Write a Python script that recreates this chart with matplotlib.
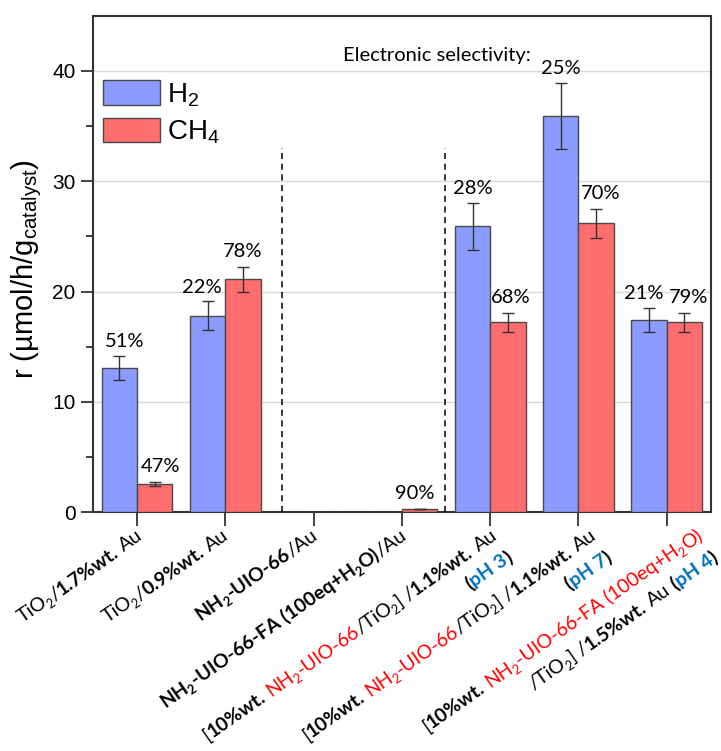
import re
import numpy as np
import matplotlib
matplotlib.use('Agg')
import matplotlib.pyplot as plt
from matplotlib.patches import Patch

plt.rcParams['font.family'] = 'Liberation Sans'
plt.rcParams['mathtext.fontset'] = 'custom'
plt.rcParams['mathtext.default'] = 'regular'

# ---- data ----
h2 = [13.1, 17.8, 0.0, 0.0, 25.9, 35.9, 17.4]
h2_err = [1.1, 1.3, 0.0, 0.0, 2.1, 3.0, 1.1]
ch4 = [2.55, 21.1, 0.0, 0.3, 17.2, 26.2, 17.2]
ch4_err = [0.15, 1.1, 0.0, 0.0, 0.9, 1.3, 0.9]
h2_sel = ['51%', '22%', '', '', '28%', '25%', '21%']
ch4_sel = ['47%', '78%', '', '90%', '68%', '70%', '79%']

# tick labels: list of lines, each line a list of (text, color, weight)
K, R, B = 'black', '#ff0000', '#0070c0'
tick_labels = [
    [[('TiO$_2$/', K, 'normal'), ('1.7%wt.', K, 'bold'), (' Au', K, 'normal')]],
    [[('TiO$_2$/', K, 'normal'), ('0.9%wt.', K, 'bold'), (' Au', K, 'normal')]],
    [[('NH$_2$-UIO-66', K, 'bold'), ('/Au', K, 'normal')]],
    [[('NH$_2$-UIO-66-FA (100eq+H$_2$O)', K, 'bold'), ('/Au', K, 'normal')]],
    [[('[', K, 'normal'), ('10%wt. ', K, 'bold'), ('NH$_2$-UIO-66', R, 'normal'),
      ('/TiO$_2$] /', K, 'normal'), ('1.1%wt.', K, 'bold'), (' Au', K, 'normal')],
     [('(', K, 'bold'), ('pH 3', B, 'bold'), (')', K, 'bold')]],
    [[('[', K, 'normal'), ('10%wt. ', K, 'bold'), ('NH$_2$-UIO-66', R, 'normal'),
      ('/TiO$_2$] /', K, 'normal'), ('1.1%wt.', K, 'bold'), (' Au', K, 'normal')],
     [('(', K, 'bold'), ('pH 7', B, 'bold'), (')', K, 'bold')]],
    [[('[', K, 'normal'), ('10%wt. ', K, 'bold'), ('NH$_2$-UIO-66-FA (100eq+H$_2$O)', R, 'normal')],
     [('/TiO$_2$] /', K, 'normal'), ('1.5%wt.', K, 'bold'), (' Au ', K, 'normal'),
      ('(', K, 'bold'), ('pH 4', B, 'bold'), (')', K, 'bold')]],
]
label_shift = [7, 4, 5, 6, 8, 19, 37]   # px, horizontal shift of label end vs tick
h2_nudge = [0.06, -0.07, 0, 0, 0, 0, -0.06]
ch4_nudge = [0.07, 0, 0, -0.05, 0.03, 0.045, 0.045]
divider_x = [1.64, 3.49]

blue = '#8c9bff'
red = '#ff6e6e'
edge = '#4a4a4a'
calibri = 'Lato'

fig = plt.figure(figsize=(7.21, 7.51), dpi=100)
ax = fig.add_axes([0.129, 0.318, 0.857, 0.661])

x = np.arange(len(h2))
w = 0.4
ax.bar(x - w / 2, h2, w, color=blue, edgecolor=edge, linewidth=1, zorder=3,
       yerr=h2_err, error_kw=dict(ecolor='#333333', elinewidth=1, capsize=4, capthick=1))
ax.bar(x + w / 2, ch4, w, color=red, edgecolor=edge, linewidth=1, zorder=3,
       yerr=ch4_err, error_kw=dict(ecolor='#333333', elinewidth=1, capsize=4, capthick=1))

for i in range(len(x)):
    if h2_sel[i]:
        ax.text(x[i] - w / 2 + h2_nudge[i], h2[i] + h2_err[i] + 1.3, h2_sel[i],
                ha='center', va='center', fontsize=14.5, family=calibri, zorder=5)
    if ch4_sel[i]:
        ax.text(x[i] + w / 2 + ch4_nudge[i], ch4[i] + ch4_err[i] + 1.4, ch4_sel[i],
                ha='center', va='center', fontsize=14.5, family=calibri, zorder=5)

ax.vlines(divider_x, 0, 33, colors='black', linestyles=(0, (4, 3)), linewidth=1.1, zorder=4)
ax.text(3.40, 41.4, 'Electronic selectivity:', ha='center', va='center', fontsize=14.5, family=calibri)

ax.set_xlim(-0.5, 6.5)
ax.set_ylim(0, 45)
ax.set_yticks([0, 10, 20, 30, 40])
ax.set_yticks([5, 15, 25, 35], minor=True)
ax.set_xticks(x)
ax.set_xticklabels([])
ax.yaxis.grid(True, color='#d9d9d9', linewidth=1, zorder=0)
ax.set_axisbelow(True)
ax.tick_params(axis='y', which='major', length=9, width=1.3, labelsize=15, color='#333333')
ax.tick_params(axis='y', which='minor', length=5, width=1.3, color='#333333')
ax.tick_params(axis='x', which='major', length=10, width=1.3, color='#333333')
for s in ax.spines.values():
    s.set_linewidth(1.5)
    s.set_color('#333333')

ax.set_ylabel('r (µmol/h/g$_{catalyst}$)', fontsize=21)
ax.yaxis.set_label_coords(-0.08, 0.49)

handles = [Patch(facecolor=blue, edgecolor=edge, label='H$_2$'),
           Patch(facecolor=red, edgecolor=edge, label='CH$_4$')]
ax.legend(handles=handles, loc='upper left', bbox_to_anchor=(-0.02, 0.915), frameon=False,
          fontsize=20, handlelength=2.07, handleheight=1.0, labelspacing=0.32,
          handletextpad=0.25, borderpad=0.3)

# ---- rotated multi-colour tick labels ----
fig.canvas.draw()
renderer = fig.canvas.get_renderer()
W, H = fig.bbox.width, fig.bbox.height
ang = 35
th = np.deg2rad(ang)
d = np.array([np.cos(th), np.sin(th)])
down = np.array([np.sin(th), -np.cos(th)])
fs = 14
sub_fs = fs * 0.65
sub_drop = fs * 0.30   # px
line_gap = 27


def seg_width(s, weight, size):
    t = fig.text(0, 0, s, fontsize=size, fontweight=weight, family=calibri)
    wd = t.get_window_extent(renderer).width
    t.remove()
    return wd


space_w = seg_width('a a', 'normal', fs) - seg_width('aa', 'normal', fs)

for i, lines in enumerate(tick_labels):
    px, py = ax.transData.transform((x[i], 0))
    anchor = np.array([px + label_shift[i], py - 26])
    for j, line in enumerate(lines):
        parts = []
        for s, c, wt in line:
            pieces = re.split(r'\$_(.+?)\$', s)
            for k, piece in enumerate(pieces):
                if piece == '':
                    continue
                sub = k % 2 == 1
                size = sub_fs if sub else fs
                lead = len(piece) - len(piece.lstrip())
                trail = len(piece) - len(piece.rstrip())
                core = piece.strip()
                cw = seg_width(core, wt, size) if core else 0
                parts.append((core, c, wt, size, sub, lead * space_w,
                              cw + (lead + trail) * space_w))
        total = sum(p[6] for p in parts)
        end = anchor + j * line_gap * down
        pos = end - total * d
        for core, c, wt, size, sub, lead_w, full_w in parts:
            p = pos + lead_w * d
            if sub:
                p = p + sub_drop * down - 1.0 * d
            if core:
                fig.text(p[0] / W, p[1] / H, core, fontsize=size, fontweight=wt, color=c,
                         family=calibri, rotation=ang, rotation_mode='anchor',
                         ha='left', va='baseline')
            pos = pos + full_w * d

fig.savefig('out.png', dpi=100)
